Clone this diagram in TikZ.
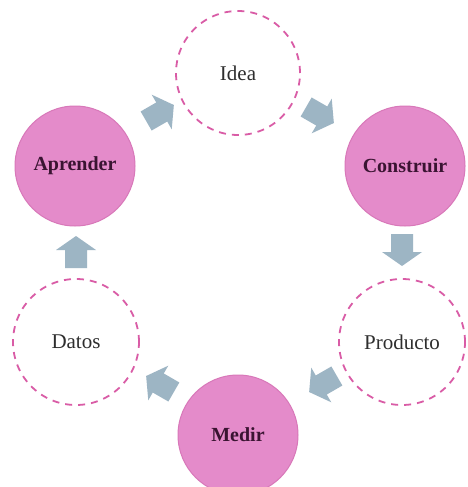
\documentclass[tikz,border=0pt]{standalone}
\usepackage{fontspec}
\setmainfont{Liberation Serif}
\usetikzlibrary{calc}
\definecolor{stagefill}{HTML}{E48BCA}
\definecolor{stageedge}{HTML}{D878B9}
\definecolor{stagetext}{HTML}{3A1432}
\definecolor{dashedge}{HTML}{D95CA6}
\definecolor{plaintext}{HTML}{2E2E2E}
\definecolor{arrowfill}{HTML}{9DB5C4}
\tikzset{
  stage/.style={circle, minimum size=#1, inner sep=0pt, fill=stagefill,
    draw=stageedge, line width=1pt, text=stagetext,
    font=\fontsize{20}{24}\selectfont\bfseries},
  result/.style={circle, minimum size=#1, inner sep=0pt, fill=white,
    draw=dashedge, line width=1.8pt, dash pattern=on 7pt off 6pt,
    text=plaintext, font=\fontsize{21}{25}\selectfont},
  pics/blockarrow/.style={code={
    \fill[arrowfill] (-16,-11) -- (2,-11) -- (2,-20) -- (16,0) -- (2,20)
      -- (2,11) -- (-16,11) -- cycle;}}
}
\begin{document}
\begin{tikzpicture}[x=1pt,y=-1pt]
  \useasboundingbox (0,0) rectangle (467,487);
  \fill[white] (0,0) rectangle (467,487);

  % stages of the cycle
  \node[result=124pt] (idea)      at (238,73)  {Idea};
  \node[stage=120pt]  (construir) at (405,166) {Construir};
  \node[result=126pt] (producto)  at (402,342) {Producto};
  \node[stage=120pt]  (medir)     at (238,435) {Medir};
  \node[result=126pt] (datos)     at (76,342)  {Datos};
  \node[stage=120pt]  (aprender)  at (75,166)  {Aprender};

  % block arrows between consecutive stages
  \pic[rotate=30]  at (160,113) {blockarrow};
  \pic[rotate=-30] at (320,115) {blockarrow};
  \pic[rotate=-90] at (402,250) {blockarrow};
  \pic[rotate=210] at (323,384) {blockarrow};
  \pic[rotate=150] at (160,384) {blockarrow};
  \pic[rotate=90]  at (76,252)  {blockarrow};
\end{tikzpicture}
\end{document}
